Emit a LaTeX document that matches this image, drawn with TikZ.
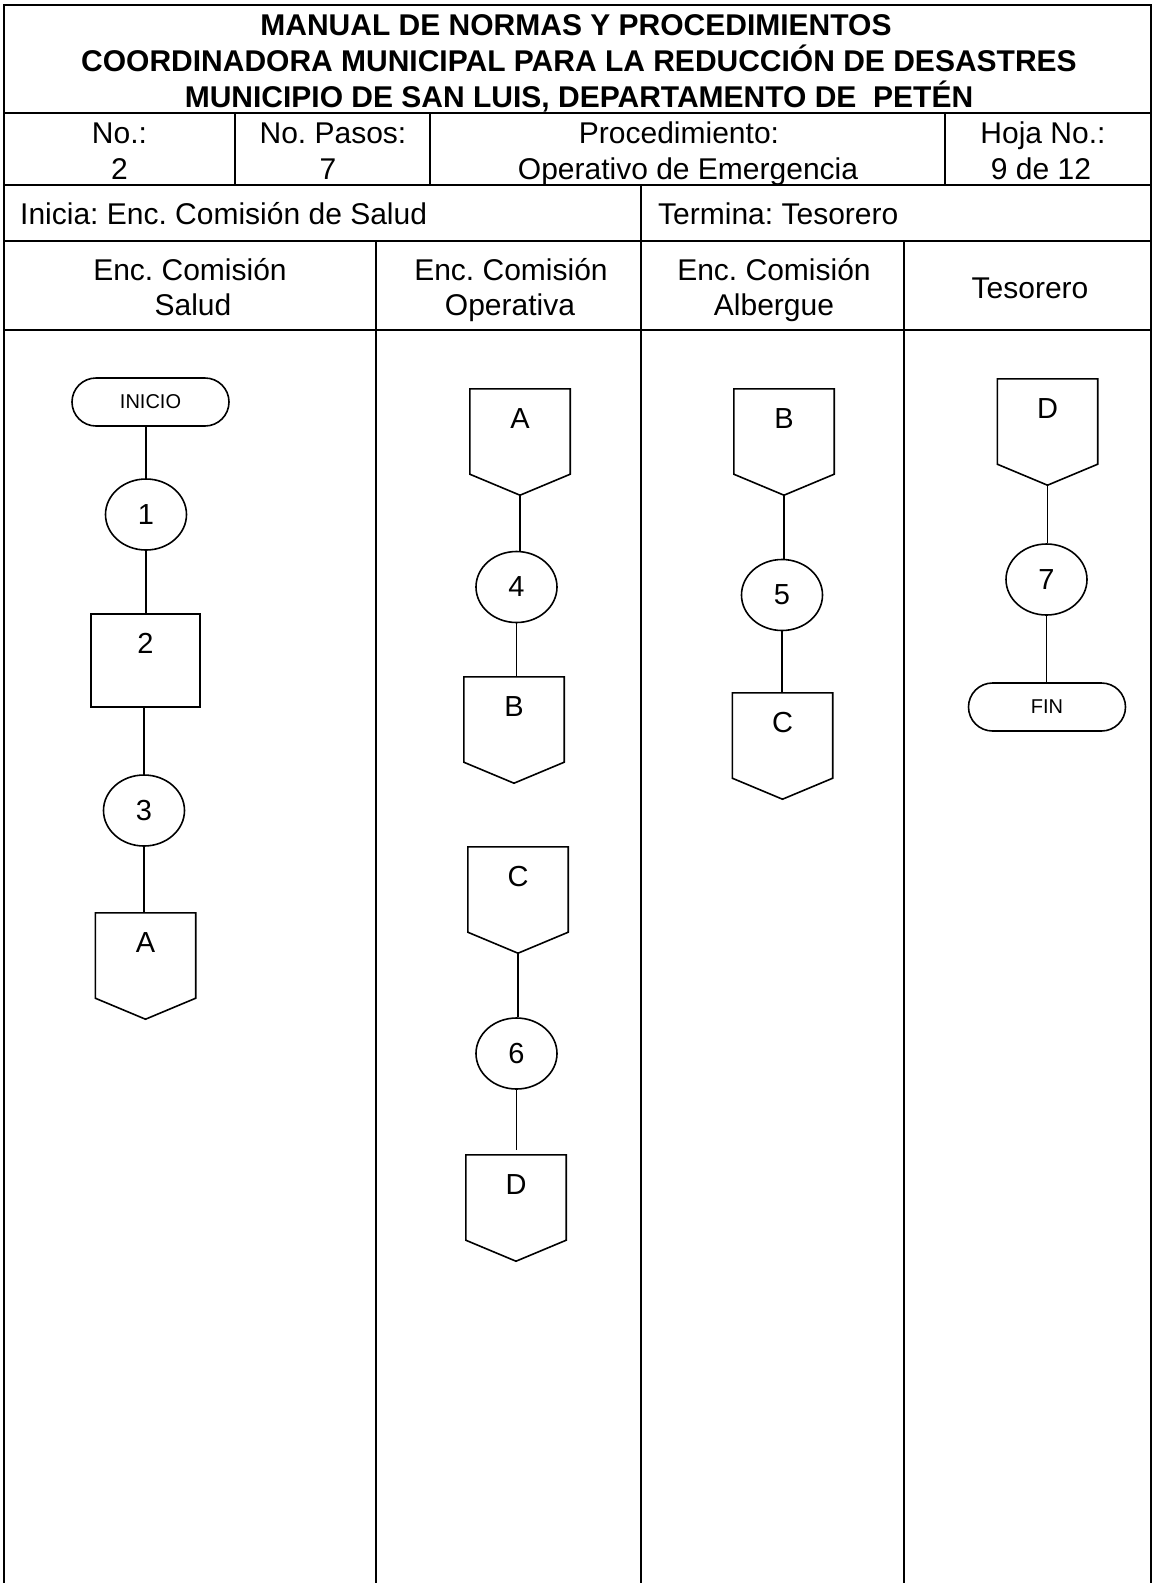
\documentclass[tikz,border=0pt]{standalone}
\usepackage{fontspec}
\setmainfont{Liberation Sans}
\usepackage{tikz}
\usetikzlibrary{shapes.geometric, shapes.misc, calc}
\frenchspacing

\newcommand{\pentagono}[1]{%
	\draw[forma] (#1.north west) -- (#1.north east) -- (#1.south east) -- ([yshift=-21pt]#1.south) -- (#1.south west) -- cycle;
	\coordinate (#1-p) at ([yshift=-21pt]#1.south);}

\begin{document}
\begin{tikzpicture}[x=1pt, y=-1pt, inner sep=0pt,
	marco/.style={line width=2.6pt},
	forma/.style={line width=1.6pt},
	texto/.style={anchor=base, font=\fontsize{30}{36}\selectfont},
	titulo/.style={anchor=base, font=\fontsize{30}{36}\selectfont\bfseries},
	paso/.style={ellipse, draw, line width=1.6pt, minimum width=81pt, minimum height=71pt, font=\fontsize{29}{34}\selectfont},
	actividad/.style={rectangle, draw, line width=1.6pt, minimum width=109pt, minimum height=93pt, text height=39pt, text depth=54pt, font=\fontsize{29}{34}\selectfont},
	conector/.style={rectangle, minimum width=100pt, minimum height=85pt, text height=39pt, text depth=46pt, font=\fontsize{29}{34}\selectfont},
	terminal/.style={rounded rectangle, draw, line width=1.6pt, minimum width=157pt, minimum height=48pt, font=\fontsize{20}{24}\selectfont}]
	
	\useasboundingbox (0,0) rectangle (1153,1583);
	
	% Rahmen und Tabelle
	\draw[marco] (4,1583) -- (4,5) -- (1151,5) -- (1151,1583);
	\draw[marco] (4,113) -- (1151,113);
	\draw[marco] (4,185) -- (1151,185);
	\draw[marco] (4,241) -- (1151,241);
	\draw[marco] (4,330) -- (1151,330);
	\draw[marco] (235,113) -- (235,185);
	\draw[marco] (430,113) -- (430,185);
	\draw[marco] (945,113) -- (945,185);
	\draw[marco] (641,185) -- (641,241);
	\draw[marco] (376,241) -- (376,1583);
	\draw[marco] (641,241) -- (641,1583);
	\draw[marco] (904,241) -- (904,1583);
	
	% Titel
	\node[titulo](tit1) at (576,35) {MANUAL DE NORMAS Y PROCEDIMIENTOS};
	\node[titulo](tit2) at (579,71) {COORDINADORA MUNICIPAL PARA LA REDUCCIÓN DE DESASTRES};
	\node[titulo](tit3) at (579,107) {MUNICIPIO DE SAN LUIS, DEPARTAMENTO DE\ \ PETÉN};
	
	\node[texto](no) at (119.5,143) {No.:};
	\node[texto](nov) at (119.5,179) {2};
	\node[texto](pas) at (333,143) {No. Pasos:};
	\node[texto](pasv) at (328,179) {7};
	\node[texto](proc) at (679,143) {Procedimiento:};
	\node[texto](procv) at (688,179) {Operativo de Emergencia};
	\node[texto](hoja) at (1043,143) {Hoja No.:};
	\node[texto](hojav) at (1041,179) {9 de 12};
	
	\node[texto, anchor=base west](inicia) at (20,224) {Inicia: Enc. Comisión de Salud};
	\node[texto, anchor=base west](termina) at (658,224) {Termina: Tesorero};
	
	\node[texto](sal1) at (190,280) {Enc. Comisión};
	\node[texto](sal2) at (193,315) {Salud};
	\node[texto](ope1) at (511,280) {Enc. Comisión};
	\node[texto](ope2) at (510,315) {Operativa};
	\node[texto](alb1) at (774,280) {Enc. Comisión};
	\node[texto](alb2) at (774,315) {Albergue};
	\node[texto](tes) at (1030,298) {Tesorero};
	
	% Enc. Comision Salud
	\node[terminal](ini) at (150.5,402) {INICIO};
	\node[paso](p1) at (146,514.5) {1};
	\node[actividad](a2) at (145.5,660.5) {2};
	\node[paso](p3) at (144,810.5) {3};
	\node[conector](sA) at (145.5,955.5) {A};
	\pentagono{sA}
	
	% Enc. Comision Operativa
	\node[conector](oA) at (520,431.5) {A};
	\pentagono{oA}
	\node[paso](p4) at (516.5,587) {4};
	\node[conector](oB) at (514,719.5) {B};
	\pentagono{oB}
	\node[conector](oC) at (518,889.5) {C};
	\pentagono{oC}
	\node[paso](p6) at (516.5,1053.5) {6};
	\node[conector](oD) at (516,1197.5) {D};
	\pentagono{oD}
	
	% Enc. Comision Albergue
	\node[conector](aB) at (784,431.5) {B};
	\pentagono{aB}
	\node[paso](p5) at (782,595) {5};
	\node[conector](aC) at (782.5,735.5) {C};
	\pentagono{aC}
	
	% Tesorero
	\node[conector](tD) at (1047.5,421.5) {D};
	\pentagono{tD}
	\node[paso](p7) at (1046.5,579.5) {7};
	\node[terminal](fin) at (1047,707) {FIN};
	
	% Verbindungen
	\draw[forma] (p1.north) -- (p1.north |- ini.south);
	\draw[forma] (p1.south) -- (p1.south |- a2.north);
	\draw[forma] (p3.north) -- (p3.north |- a2.south);
	\draw[forma] (p3.south) -- (p3.south |- sA.north);
	\draw[forma] (oA-p) -- (oA-p |- p4.north);
	\draw[forma] (p4.south) -- (p4.south |- oB.north);
	\draw[forma] (oC-p) -- (oC-p |- p6.north);
	\draw[forma, shorten >=5pt] (p6.south) -- (p6.south |- oD.north);
	\draw[forma] (aB-p) -- (aB-p |- p5.north);
	\draw[forma] (p5.south) -- (p5.south |- aC.north);
	\draw[forma] (tD-p) -- (tD-p |- p7.north);
	\draw[forma] (p7.south) -- (p7.south |- fin.north);
\end{tikzpicture}
\end{document}
